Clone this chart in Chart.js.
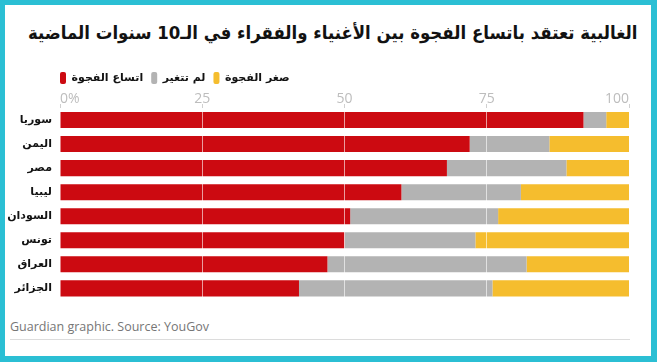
<!DOCTYPE html>
<html lang="ar">
<head>
    <meta charset="UTF-8">
    <title>الغالبية تعتقد باتساع الفجوة</title>
    <script src="https://cdn.jsdelivr.net/npm/chart.js"></script>
    <style>
        html, body {
            margin: 0;
            padding: 0;
            background: #2bbfd4;
        }
        .frame {
            position: absolute;
            left: 5px;
            top: 5px;
            width: 646px;
            height: 351px;
            background: #ffffff;
            overflow: hidden;
        }
        .title {
            position: absolute;
            right: 14px;
            top: 17px;
            direction: rtl;
            font-family: "DejaVu Sans", sans-serif;
            font-weight: bold;
            font-size: 18px;
            color: #121212;
            white-space: nowrap;
            transform: scaleX(0.92);
            transform-origin: right center;
        }
        .chart-box {
            position: absolute;
            left: 0;
            top: 59px;
            width: 646px;
            height: 251px;
        }
        .source {
            position: absolute;
            left: 5px;
            top: 313px;
            font-family: "Open Sans", sans-serif;
            font-size: 12.5px;
            color: #767676;
        }
        .rule {
            position: absolute;
            left: 5px;
            top: 334px;
            width: 620px;
            border-top: 1px solid #dcdcdc;
        }
    </style>
</head>
<body>
    <div class="frame">
        <div class="title">الغالبية تعتقد باتساع الفجوة بين الأغنياء والفقراء في الـ10 سنوات الماضية</div>
        <div class="chart-box"><canvas id="gapChart"></canvas></div>
        <div class="source">Guardian graphic. Source: YouGov</div>
        <div class="rule"></div>
    </div>

    <script>
        // countries, top to bottom
        const countries = ['سوريا', 'اليمن', 'مصر', 'ليبيا', 'السودان', 'تونس', 'العراق', 'الجزائر'];

        // share of people (%) per answer
        const widened = [92, 72, 68, 60, 51, 50, 47, 42];
        const unchanged = [4, 14, 21, 21, 26, 23, 35, 34];
        const narrowed = [4, 14, 11, 19, 23, 27, 18, 24];

        const seriesNames = ['اتساع الفجوة', 'لم تتغير', 'صغر الفجوة'];
        const xTicks = [0, 25, 50, 75, 100];

        // line the legend up with the left edge of the plot
        const legendShift = {
            id: 'legendShift',
            afterLayout(chart) {
                chart.legend.left = chart.chartArea.left - chart.legend.options.labels.padding;
            }
        };

        const arabicFont = '"DejaVu Sans", sans-serif';

        new Chart(document.getElementById('gapChart'), {
            type: 'bar',
            data: {
                labels: countries,
                datasets: [
                    { label: seriesNames[0], data: widened, backgroundColor: '#cc0a11' },
                    { label: seriesNames[1], data: unchanged, backgroundColor: '#b3b3b3' },
                    { label: seriesNames[2], data: narrowed, backgroundColor: '#f5bd2e' }
                ]
            },
            options: {
                indexAxis: 'y',
                responsive: true,
                maintainAspectRatio: false,
                animation: false,
                layout: {
                    padding: { right: 22, bottom: 3 }
                },
                datasets: {
                    bar: {
                        categoryPercentage: 1,
                        barPercentage: 0.667,
                        borderWidth: 0
                    }
                },
                scales: {
                    x: {
                        stacked: true,
                        position: 'top',
                        min: 0,
                        max: 100,
                        afterBuildTicks: scale => {
                            scale.ticks = xTicks.map(v => ({ value: v }));
                        },
                        afterFit: scale => {
                            scale.height = 20;
                        },
                        border: { display: false },
                        grid: {
                            z: 1,
                            tickLength: 4,
                            tickColor: '#d0d0d0',
                            color: ctx => (ctx.index === 0 || ctx.index === xTicks.length - 1)
                                ? 'rgba(255,255,255,0)'
                                : 'rgba(255,255,255,0.6)'
                        },
                        ticks: {
                            align: 'inner',
                            padding: -2,
                            color: '#bdbdbd',
                            font: { family: '"Open Sans", sans-serif', size: 14, lineHeight: 1 },
                            callback: v => v === 0 ? '0%' : String(v)
                        }
                    },
                    y: {
                        stacked: true,
                        afterFit: scale => {
                            scale.width = 55;
                        },
                        border: { display: false },
                        grid: { display: false, drawTicks: false },
                        ticks: {
                            padding: 8,
                            color: '#121212',
                            font: { family: arabicFont, size: 11, weight: 'bold' }
                        }
                    }
                },
                plugins: {
                    legend: {
                        position: 'top',
                        align: 'start',
                        maxHeight: 24,
                        labels: {
                            boxWidth: 6,
                            boxHeight: 12,
                            useBorderRadius: true,
                            borderRadius: 2,
                            padding: 8,
                            color: '#121212',
                            font: { family: arabicFont, size: 11, weight: 'bold' }
                        }
                    },
                    tooltip: { enabled: false }
                }
            },
            plugins: [legendShift]
        });
    </script>
</body>
</html>
